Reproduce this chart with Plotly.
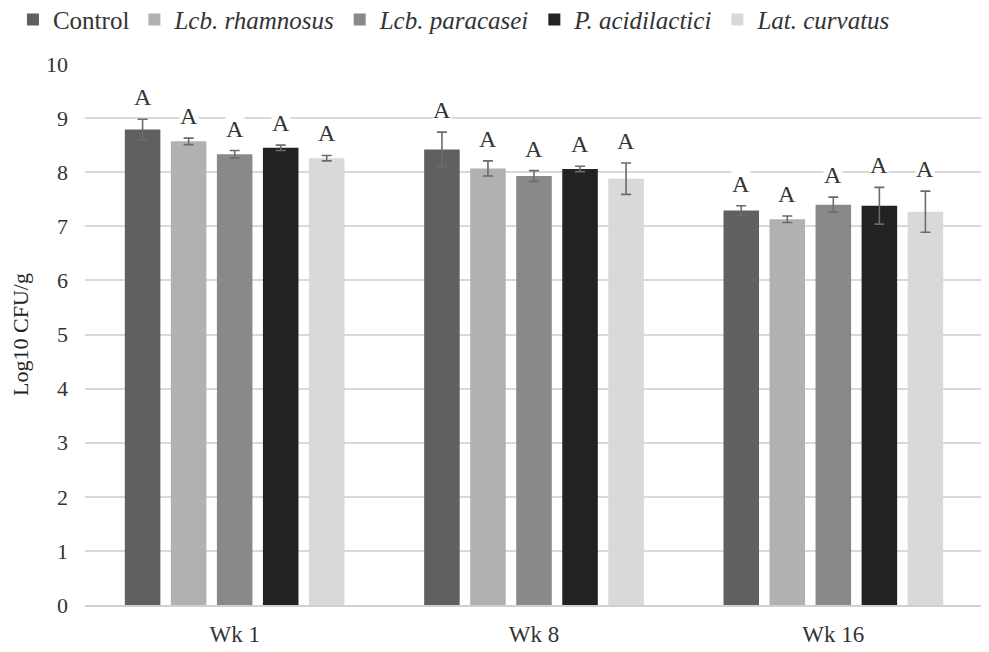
import plotly.graph_objects as go

# Recuentos (Log10 CFU/g) por tratamiento y semana
weeks = ["Wk 1", "Wk 8", "Wk 16"]
series_names = ["Control", "Lcb. rhamnosus", "Lcb. paracasei", "P. acidilactici", "Lat. curvatus"]
italic = [False, True, True, True, True]
colors = ["#606060", "#b1b1b1", "#898989", "#222222", "#d9d9d9"]

control = [8.79, 8.42, 7.29]
rhamnosus = [8.57, 8.07, 7.13]
paracasei = [8.33, 7.93, 7.40]
acidilactici = [8.45, 8.06, 7.38]
curvatus = [8.26, 7.88, 7.27]

control_sd = [0.19, 0.32, 0.09]
rhamnosus_sd = [0.06, 0.14, 0.06]
paracasei_sd = [0.07, 0.10, 0.14]
acidilactici_sd = [0.05, 0.05, 0.34]
curvatus_sd = [0.05, 0.29, 0.38]

letters = [["A", "A", "A"]] * 5

values = [control, rhamnosus, paracasei, acidilactici, curvatus]
errors = [control_sd, rhamnosus_sd, paracasei_sd, acidilactici_sd, curvatus_sd]

SERIF = "Liberation Serif"
BARGAP = 0.231
GROUPGAP = 0.228

fig = go.Figure()
n = len(series_names)
for i, name in enumerate(series_names):
    label = f"<i>{name}</i>" if italic[i] else name
    fig.add_trace(
        go.Bar(
            x=weeks,
            y=values[i],
            name=label,
            marker=dict(color=colors[i], line=dict(color=colors[i], width=0)),
            error_y=dict(
                type="data",
                array=errors[i],
                visible=True,
                color="#6b6b6b",
                thickness=1.6,
                width=5,
            ),
        )
    )

# Letras de significancia sobre las barras de error
slot = (1 - BARGAP) / n
for i in range(n):
    for j, wk in enumerate(weeks):
        top = values[i][j] + errors[i][j]
        fig.add_annotation(
            x=j - (1 - BARGAP) / 2 + slot * (i + 0.5),
            y=top,
            xref="x",
            yref="y",
            text=letters[i][j],
            showarrow=False,
            yanchor="bottom",
            yshift=8,
            bgcolor="white",
            borderpad=0,
            font=dict(family=SERIF, size=24, color="#333333"),
        )

# La página añade 8 px de margen al cuerpo: se compensa en los márgenes
fig.update_layout(
    barmode="group",
    bargap=BARGAP,
    bargroupgap=GROUPGAP,
    width=989,
    height=652,
    margin=dict(l=77, r=14, t=56, b=55),
    paper_bgcolor="white",
    plot_bgcolor="white",
    font=dict(family=SERIF, size=22, color="#333333"),
    legend=dict(
        orientation="h",
        yref="container",
        xref="container",
        x=0.005,
        y=0.982,
        yanchor="middle",
        xanchor="left",
        font=dict(family=SERIF, size=25, color="#333333"),
        itemwidth=30,
    ),
    showlegend=True,
)

fig.update_xaxes(
    type="category",
    range=[-0.5, 2.5],
    showgrid=False,
    showline=True,
    linecolor="#d0d0d0",
    linewidth=1.5,
    ticks="",
    tickfont=dict(family=SERIF, size=23, color="#333333"),
    ticklabelstandoff=8,
)
fig.update_yaxes(
    range=[0, 10],
    dtick=1,
    showgrid=True,
    gridcolor="#d9d9d9",
    gridwidth=1.5,
    zeroline=False,
    showline=False,
    ticks="",
    automargin=False,
    tickfont=dict(family=SERIF, size=22, color="#333333"),
    ticklabelstandoff=16,
    title=dict(text="Log10 CFU/g", font=dict(family=SERIF, size=22, color="#222222"), standoff=12),
)

fig.write_html("out.html")
